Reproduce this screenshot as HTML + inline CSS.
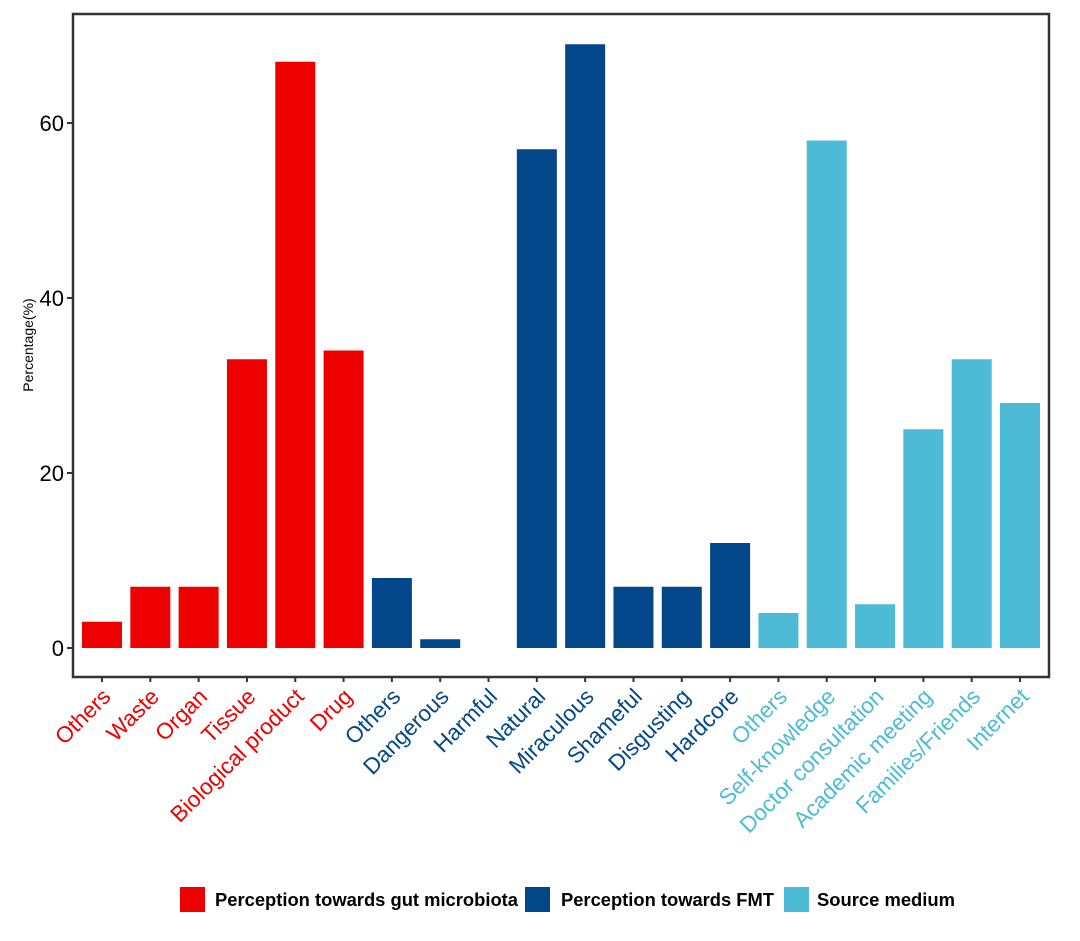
<!DOCTYPE html>
<html><head><meta charset="utf-8"><style>
body{margin:0;background:#fff;width:1080px;height:936px;overflow:hidden;font-family:"Liberation Sans",sans-serif}
</style></head><body>
<svg id="chart" width="1080" height="936" xmlns="http://www.w3.org/2000/svg" font-family="Liberation Sans, sans-serif"></svg>
<script>
const categories=["Others","Waste","Organ","Tissue","Biological product","Drug","Others","Dangerous","Harmful","Natural","Miraculous","Shameful","Disgusting","Hardcore","Others","Self-knowledge","Doctor consultation","Academic meeting","Families/Friends","Internet"];
const values=[3,7,7,33,67,34,8,1,0,57,69,7,7,12,4,58,5,25,33,28];
const groups=[0,0,0,0,0,0,1,1,1,1,1,1,1,1,2,2,2,2,2,2];
const groupNames=["Perception towards gut microbiota","Perception towards FMT","Source medium"];
const yTicks=[0,20,40,60];
const colors=["#EE0000","#02478A","#4DBBD5"];
const svg=document.getElementById('chart');const NS="http://www.w3.org/2000/svg";
function mk(t,a,p){const e=document.createElementNS(NS,t);for(const k in a)e.setAttribute(k,a[k]);(p||svg).appendChild(e);return e;}
const x0=102,step=(1020-102)/19,bw=40;
const xs=i=>x0+i*step;
const ys=v=>648-v*8.75;
categories.forEach((c,i)=>{
 const r=mk('rect',{x:xs(i)-bw/2,y:ys(values[i]),width:bw,height:ys(0)-ys(values[i]),fill:colors[groups[i]]});
 
 
 mk('line',{x1:xs(i),x2:xs(i),y1:677,y2:682,stroke:'#333','stroke-width':2});
 const t=mk('text',{x:0,y:0,'text-anchor':'end','font-size':22.5,fill:colors[groups[i]],transform:`translate(${xs(i)+10},${698}) rotate(-45)`});
 t.textContent=c;
 
 
});
const p=mk('rect',{x:73,y:14,width:976,height:663,fill:'none',stroke:'#333','stroke-width':2.5});


yTicks.forEach(v=>{
 mk('line',{x1:67,x2:73,y1:ys(v),y2:ys(v),stroke:'#333','stroke-width':2});
 const t=mk('text',{x:64,y:ys(v)+8,'text-anchor':'end','font-size':22,fill:'#000'});
 t.textContent=v;
 
 
});
const yt=mk('text',{x:0,y:0,'text-anchor':'middle','font-size':14,fill:'#000',transform:'translate(33,345) rotate(-90)'});
yt.textContent='Percentage(%)';


const lx=[180,525,784];
const ltx=[215,561,817];
const ltw=[303,213,138];
groupNames.forEach((g,i)=>{
 const r=mk('rect',{x:lx[i],y:887,width:25,height:25,fill:colors[i]});
 
 
 const t=mk('text',{x:ltx[i],y:906,'font-size':18.3,'font-weight':'bold',fill:'#000',textLength:ltw[i],lengthAdjust:'spacingAndGlyphs'});
 t.textContent=g;
 
 
});
</script>
</body></html>
